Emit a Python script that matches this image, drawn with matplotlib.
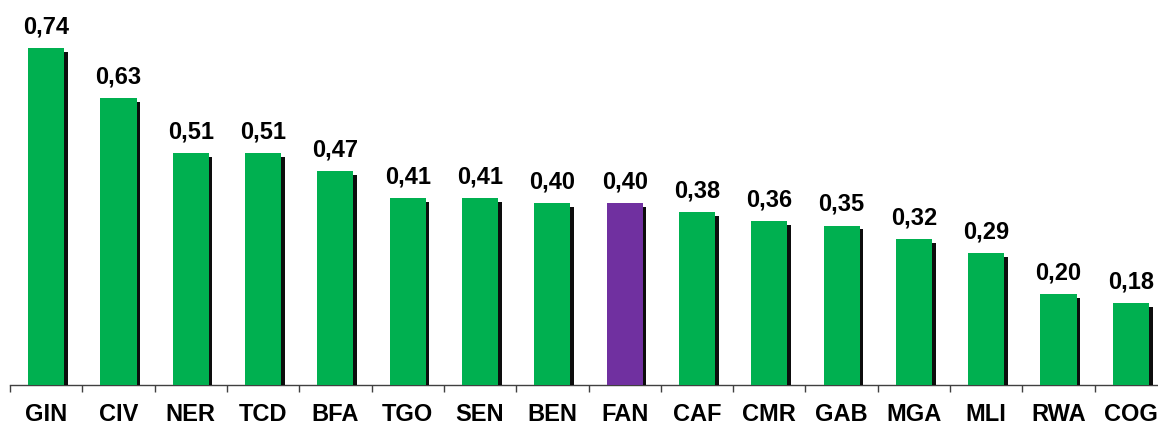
import matplotlib
matplotlib.use("Agg")
import matplotlib.pyplot as plt
import matplotlib.patheffects as pe

categories = ["GIN", "CIV", "NER", "TCD", "BFA", "TGO", "SEN", "BEN",
              "FAN", "CAF", "CMR", "GAB", "MGA", "MLI", "RWA", "COG"]
values = [0.74, 0.63, 0.51, 0.51, 0.47, 0.41, 0.41, 0.40,
          0.40, 0.38, 0.36, 0.35, 0.32, 0.29, 0.20, 0.18]
labels = ["0,74", "0,63", "0,51", "0,51", "0,47", "0,41", "0,41", "0,40",
          "0,40", "0,38", "0,36", "0,35", "0,32", "0,29", "0,20", "0,18"]
highlight = "FAN"

W, H = 1158, 424
fig = plt.figure(figsize=(W / 100, H / 100), dpi=100)
ax = fig.add_axes([10 / W, 39 / H, 1157 / W, 385 / H])
fam = ['Liberation Sans', 'DejaVu Sans']

colors = ["#7030A0" if c == highlight else "#00B050" for c in categories]
x = list(range(len(categories)))
bars = ax.bar(x, values, width=0.5, color=colors, zorder=3)
for b in bars:
    b.set_path_effects([pe.SimplePatchShadow(offset=(2.6, -2.6), shadow_rgbFace="black", alpha=0.95),
                        pe.Normal()])

for xi, v, lab in zip(x, values, labels):
    ax.annotate(lab, (xi, v), xytext=(0, 7), textcoords="offset points",
                ha="center", va="bottom", fontsize=17, fontweight="bold",
                family=fam)

ax.set_xlim(-0.5, len(categories) - 0.5)
ax.set_ylim(0, 0.846)
for s in ["top", "right", "left"]:
    ax.spines[s].set_visible(False)
ax.spines["bottom"].set_color("#404040")
ax.spines["bottom"].set_linewidth(1)
ax.set_yticks([])
ax.set_xticks([i - 0.5 for i in range(len(categories) + 1)], minor=False)
ax.set_xticklabels([])
ax.tick_params(axis="x", which="major", length=5, color="#404040", width=1)
ax.set_xticks(x, minor=True)
ax.set_xticklabels(categories, minor=True, fontsize=17, fontweight="bold",
                   family=fam)
ax.tick_params(axis="x", which="minor", length=0, pad=13)

fig.savefig("out.png", dpi=100)
